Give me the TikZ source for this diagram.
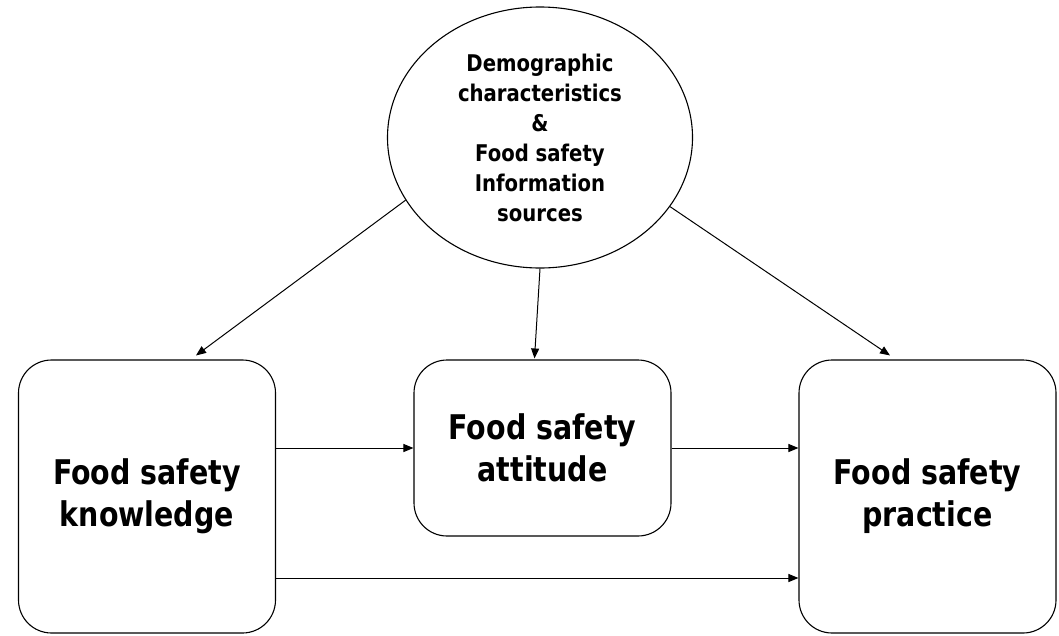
\documentclass[tikz,border=0pt]{standalone}
\usepackage{fontspec}
\setmainfont{DejaVu Sans Condensed}
\newfontfamily\boxfont[FakeStretch=0.93]{DejaVu Sans Condensed}
\newfontfamily\ellfont[FakeStretch=0.95]{DejaVu Sans Condensed}
\usetikzlibrary{arrows.meta,shapes.geometric}
\begin{document}
\begin{tikzpicture}[x=1pt,y=-1pt,
  box/.style={draw,line width=1.1pt,rounded corners=33pt,minimum width=257pt,align=center,inner sep=0pt,font=\boxfont\fontsize{34}{42}\selectfont\bfseries},
  arr/.style={-{Triangle[length=10pt,width=8pt]},line width=1pt}]
\useasboundingbox (0,0) rectangle (1059,635);
\node[draw,ellipse,line width=1.1pt,minimum width=305pt,minimum height=261pt,inner sep=0pt,align=center,font=\ellfont\fontsize{23}{30}\selectfont\bfseries] (ell) at (540,137.5)
  {Demographic\\characteristics\\\&\\Food safety\\Information\\sources};
\node[box,minimum height=273pt] (lbox) at (147,496.5) {Food safety\\knowledge};
\node[box,minimum height=176pt] (mbox) at (542.5,448) {Food safety\\attitude};
\node[box,minimum height=273pt] (rbox) at (927.5,496.5) {Food safety\\practice};
\draw[arr] (ell.205.7) -- ([xshift=49pt,yshift=4pt]lbox.north);
\draw[arr] (ell.south) -- ([xshift=-8pt,yshift=1pt]mbox.north);
\draw[arr] (ell.332.6) -- ([xshift=-37.5pt,yshift=4pt]rbox.north);
\draw[arr] (lbox.east |- mbox.west) -- (mbox.west);
\draw[arr] (mbox.east) -- (mbox.east -| rbox.west);
\draw[arr] ([yshift=-81.5pt]lbox.east) -- ([yshift=-81.5pt]lbox.east -| rbox.west);
\end{tikzpicture}
\end{document}
